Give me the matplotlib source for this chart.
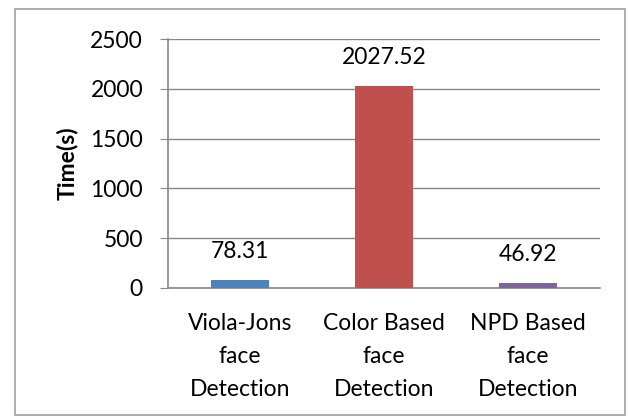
import matplotlib.pyplot as plt
from matplotlib.patches import Rectangle

plt.rcParams["font.family"] = ["Lato", "DejaVu Sans"]

categories = ["Viola-Jons\nface\nDetection", "Color Based\nface\nDetection", "NPD Based\nface\nDetection"]
times = [78.31, 2027.52, 46.92]
labels = ["78.31", "2027.52", "46.92"]
colors = ["#4F81BD", "#C0504D", "#8064A2"]

W, H = 629, 416
fs = 16.5
fig = plt.figure(figsize=(W / 100, H / 100), dpi=100)

# outer chart border
fig.patches.append(Rectangle((15 / W, 1 - 415 / H), 610 / W, 406 / H,
                             transform=fig.transFigure, fill=False,
                             edgecolor="#a0a0a0", linewidth=1.2))

ax = fig.add_axes([168 / W, 1 - 288 / H, 432 / W, 249 / H])
x = list(range(len(categories)))
ax.bar(x, times, width=0.4, color=colors, zorder=3)
ax.set_xlim(-0.5, 2.5)
ax.set_ylim(0, 2500)
ax.set_yticks(range(0, 2501, 500))
ax.set_xticks(x)
ax.set_xticklabels(categories, fontsize=fs, linespacing=1.72)
ax.tick_params(axis="x", length=0, pad=18)
ax.tick_params(axis="y", length=6, color="#888888", labelsize=fs, pad=12)
ax.grid(axis="y", color="#888888", linewidth=1, zorder=0)

for s in ["top", "right"]:
    ax.spines[s].set_visible(False)
ax.spines["left"].set_color("#888888")
ax.spines["bottom"].set_color("#888888")
ax.spines["left"].set_linewidth(1.2)
ax.spines["bottom"].set_linewidth(1.2)

for xi, v, lab in zip(x, times, labels):
    ax.text(xi, v + 290, lab, ha="center", va="center", fontsize=fs)

ax.set_ylabel("Time(s)", fontsize=fs, fontweight="bold", labelpad=9)

fig.savefig("out.png", dpi=100)
